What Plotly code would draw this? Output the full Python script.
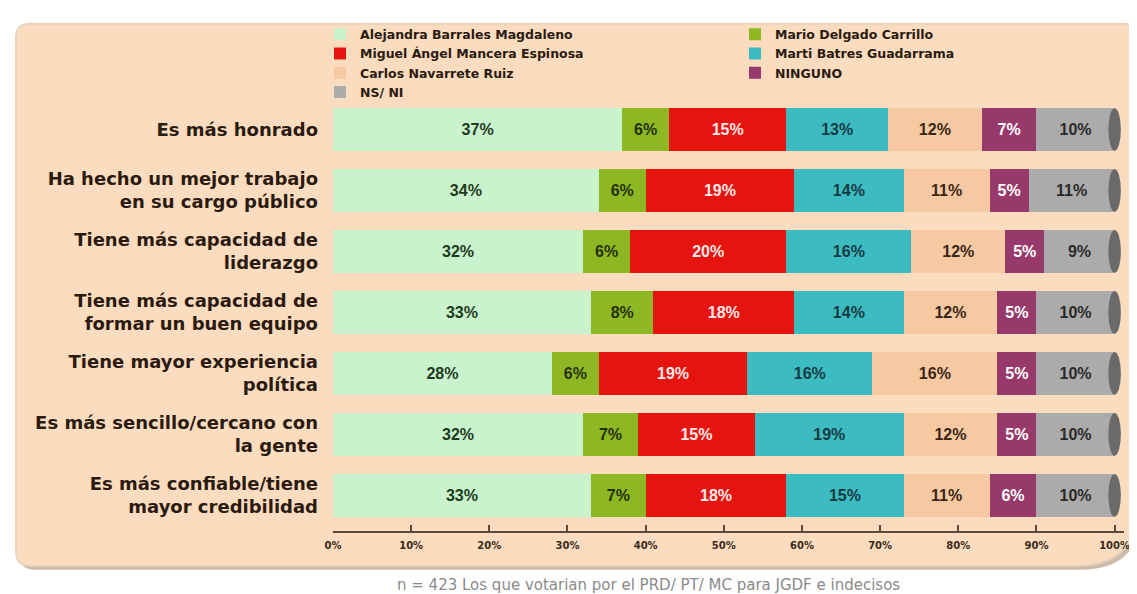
import plotly.graph_objects as go

# ---------------- data ----------------
categories = [
    "Es más honrado",
    "Ha hecho un mejor trabajo<br>en su cargo público",
    "Tiene más capacidad de<br>liderazgo",
    "Tiene más capacidad de<br>formar un buen equipo",
    "Tiene mayor experiencia<br>política",
    "Es más sencillo/cercano con<br>la gente",
    "Es más confiable/tiene<br>mayor credibilidad",
]
series_names = [
    "Alejandra Barrales Magdaleno",
    "Mario Delgado Carrillo",
    "Miguel Ángel Mancera Espinosa",
    "Marti Batres Guadarrama",
    "Carlos Navarrete Ruiz",
    "NINGUNO",
    "NS/ NI",
]
alejandra = [37, 34, 32, 33, 28, 32, 33]
mario = [6, 6, 6, 8, 6, 7, 7]
miguel = [15, 19, 20, 18, 19, 15, 18]
marti = [13, 14, 16, 14, 16, 19, 15]
carlos = [12, 11, 12, 12, 16, 12, 11]
ninguno = [7, 5, 5, 5, 5, 5, 6]
nsni = [10, 11, 9, 10, 10, 10, 10]
x_tick_vals = [0, 10, 20, 30, 40, 50, 60, 70, 80, 90, 100]
x_tick_text = ["0%", "10%", "20%", "30%", "40%", "50%", "60%", "70%", "80%", "90%", "100%"]
note_text = "n = 423 Los que votarian por el PRD/ PT/ MC para JGDF e indecisos"

series_values = [alejandra, mario, miguel, marti, carlos, ninguno, nsni]
colors = ["#C9F3CC", "#8DB823", "#E6140F", "#3CBCC0", "#F6C9A2", "#98396B", "#ABABAB"]
text_colors = ["#1F3A1F", "#25300A", "#FFE8E8", "#163A44", "#3A2614", "#FFFFFF", "#2A2A2A"]
legend_ids = ["legend", "legend2", "legend", "legend2", "legend", "legend2", "legend"]

# ---------------- geometry ----------------
W_FIG, H_FIG = 1137, 594
X_MAX = 101.2
L, T, B = 325, 87, 71
R = round(W_FIG - L - (1107 - L) * X_MAX / 100)
PW, PH = W_FIG - L - R, H_FIG - T - B


def px(x):
    return (x - L) / PW


def py(y):
    return 1 - (y - T) / PH


ypos = list(range(len(categories)))

fig = go.Figure()
for name, vals, col, tcol, lg in zip(series_names, series_values, colors, text_colors, legend_ids):
    fig.add_trace(go.Bar(
        y=ypos, x=vals, name=name, orientation="h",
        marker=dict(color=col, line=dict(width=0)),
        width=0.70,
        text=[f"{v}%" for v in vals],
        textposition="inside", insidetextanchor="middle",
        textfont=dict(family="Liberation Sans, Arial", size=16, color=tcol, weight="bold"),
        legend=lg,
        hovertemplate="%{x}%<extra>" + name + "</extra>",
    ))

shapes = []


def panel_path(x0, y0, x1, y1, r, rbig):
    return (f"M {px(x0 + r)},{py(y0)} L {px(x1 - r)},{py(y0)} "
            f"Q {px(x1)},{py(y0)} {px(x1)},{py(y0 + r)} "
            f"L {px(x1)},{py(y1 - rbig)} Q {px(x1)},{py(y1)} {px(x1 - rbig)},{py(y1)} "
            f"L {px(x0 + r)},{py(y1)} Q {px(x0)},{py(y1)} {px(x0)},{py(y1 - r)} "
            f"L {px(x0)},{py(y0 + r)} Q {px(x0)},{py(y0)} {px(x0 + r)},{py(y0)} Z")


shapes.append(dict(type="path", xref="paper", yref="paper", layer="below",
                   path=panel_path(12, 15, 1133, 562, 14, 60),
                   fillcolor="#CDBBA8", line=dict(width=0)))
shapes.append(dict(type="path", xref="paper", yref="paper", layer="below",
                   path=panel_path(8, 11, 1129, 558, 14, 60),
                   fillcolor="#FCDCBF", line=dict(color="#E6D3C0", width=2)))

# cylinder end caps, placed at each row total
totals = [sum(v[i] for v in series_values) for i in range(len(categories))]
for i, tot in enumerate(totals):
    shapes.append(dict(type="circle", xref="x", yref="y", layer="above",
                       x0=tot - 0.8, x1=tot + 0.8, y0=i - 0.35, y1=i + 0.35,
                       fillcolor="#6A6A6A", line=dict(width=0)))

legend_font = dict(family="DejaVu Sans, Liberation Sans", size=12.5, weight="bold", color="#2A1A10")

fig.update_layout(
    width=W_FIG, height=H_FIG,
    margin=dict(l=L, r=R, t=T, b=B),
    barmode="stack", bargap=0.3,
    paper_bgcolor="white", plot_bgcolor="rgba(0,0,0,0)",
    font=dict(family="Liberation Sans, Arial", color="#2A1A10"),
    shapes=shapes,
    legend=dict(x=px(312), y=py(7), xanchor="left", yanchor="top",
                orientation="v", traceorder="normal", tracegroupgap=0,
                bgcolor="rgba(0,0,0,0)", itemwidth=30, font=legend_font),
    legend2=dict(x=px(727), y=py(7), xanchor="left", yanchor="top",
                 orientation="v", traceorder="normal", tracegroupgap=0,
                 bgcolor="rgba(0,0,0,0)", itemwidth=30, font=legend_font),
    xaxis=dict(range=[0, X_MAX], tickvals=x_tick_vals, ticktext=x_tick_text,
               showgrid=False, zeroline=False, showline=True, linecolor="#5A4A3A",
               linewidth=2, ticks="inside", ticklen=6, tickcolor="#5A4A3A", tickwidth=2,
               ticklabelstandoff=4,
               tickfont=dict(family="DejaVu Sans, Liberation Sans", size=10,
                             weight="bold", color="#3A2A1A"), fixedrange=True),
    yaxis=dict(range=[6.585, -0.5], tickvals=ypos, ticktext=categories,
               showgrid=False, zeroline=False, showline=False, ticks="",
               ticklabelstandoff=14,
               tickfont=dict(family="DejaVu Sans, Liberation Sans", size=18,
                             weight="bold", color="#2A1A10"), fixedrange=True),
    annotations=[dict(text=note_text, xref="paper", yref="paper",
                      x=px(640), y=py(577), xanchor="center", yanchor="middle",
                      showarrow=False,
                      font=dict(family="DejaVu Sans, Liberation Sans", size=15, color="#8A8A8A"))],
    showlegend=True,
)

fig.write_html("out.html")
